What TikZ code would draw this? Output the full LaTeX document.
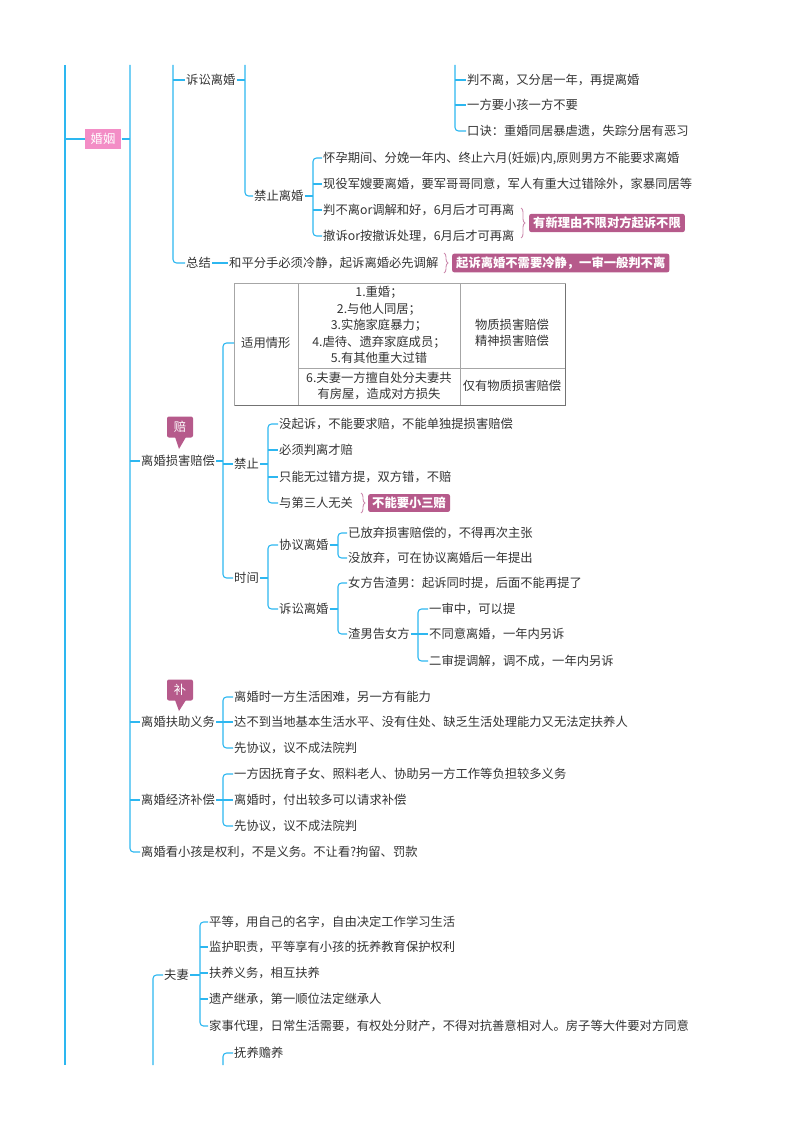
\documentclass[tikz,border=0pt]{standalone}
\usepackage{fontspec}
\setmainfont{Noto Sans CJK SC}
\usetikzlibrary{decorations.pathreplacing}
\definecolor{ln}{HTML}{2DB7F0}
\definecolor{tx}{HTML}{333333}
\definecolor{tagc}{HTML}{B65A8B}
\definecolor{pinkc}{HTML}{F38DC6}
\tikzset{
 ln/.style={draw=ln,line width=1.1pt},
 it/.style={anchor=west,inner sep=1pt,text=tx,font=\fontsize{12.3}{14}\selectfont},
 tag/.style={anchor=west,fill=tagc,text=white,rounded corners=2pt,inner xsep=4pt,inner ysep=3pt,font=\fontsize{12.3}{14}\selectfont\bfseries},
 brc/.style={draw=tagc!70,line width=0.9pt,decorate,decoration={brace,amplitude=4pt}},
 cell/.style={text=tx,align=center,font=\fontsize{12.3}{16.5}\selectfont},
 tb/.style={draw=gray!70,line width=0.7pt},
}
\newcommand\grp[3]{\coordinate (bx) at (#1,0);
 \draw[ln,rounded corners=3.5pt] (#2.west) -- (#2.west -| bx) -- (#3.west -| bx) -- (#3.west);}
\newcommand\tk[1]{\draw[ln] (#1.west -| bx) -- (#1.west);}
\newcommand\pr[1]{\draw[ln] (#1.east) -- (#1.east -| bx);}
\begin{document}
\begin{tikzpicture}[x=1pt,y=-1pt]
\useasboundingbox (0,0) rectangle (800,1132);
% main vertical
\draw[ln] (65,65) -- (65,1065);
\node[fill=pinkc,text=white,inner xsep=6pt,inner ysep=4pt,font=\fontsize{12.3}{14}\selectfont] (hy) at (103,139) {婚姻};
\draw[ln] (65,139) -- (hy.west);
% level x=130
\node[it] (sh) at (140,461) {离婚损害赔偿};
\node[it] (fz) at (140,722) {离婚扶助义务};
\node[it] (jj) at (140,800) {离婚经济补偿};
\node[it] (kx) at (140,852) {离婚看小孩是权利，不是义务。不让看?拘留、罚款};
\coordinate (t130) at (130,65);
\draw[ln,rounded corners=3.5pt] (t130) -- (kx.west -| t130) -- (kx.west);
\coordinate (bx) at (130,0);
\pr{hy}\tk{sh}\tk{fz}\tk{jj}
% level x=173
\node[it] (ss) at (185,80) {诉讼离婚};
\node[it] (zj) at (185,263) {总结};
\coordinate (t173) at (173,65);
\draw[ln,rounded corners=3.5pt] (t173) -- (zj.west -| t173) -- (zj.west);
\coordinate (bx) at (173,0); \tk{ss}
% x=455 group
\node[it] (a1) at (466,80) {判不离，又分居一年，再提离婚};
\node[it] (a2) at (466,105) {一方要小孩一方不要};
\node[it] (a3) at (466,131) {口诀：重婚同居暴虐遗，失踪分居有恶习};
\coordinate (t455) at (455,65);
\draw[ln,rounded corners=3.5pt] (t455) -- (a3.west -| t455) -- (a3.west);
\coordinate (bx) at (455,0); \tk{a1}\tk{a2}
% 禁止离婚
\node[it] (jz) at (253,196) {禁止离婚};
\coordinate (t245) at (245,65);
\draw[ln,rounded corners=3.5pt] (t245) -- (jz.west -| t245) -- (jz.west);
\coordinate (bx) at (245,0); \pr{ss}
\node[it] (b1) at (322,158) {怀孕期间、分娩一年内、终止六月(妊娠)内,原则男方不能要求离婚};
\node[it] (b2) at (322,184) {现役军嫂要离婚，要军哥哥同意，军人有重大过错除外，家暴同居等};
\node[it] (b3) at (322,210) {判不离or调解和好，6月后才可再离};
\node[it] (b4) at (322,236) {撤诉or按撤诉处理，6月后才可再离};
\grp{313}{b1}{b4}\tk{b2}\tk{b3}\pr{jz}
\draw[brc] (521,208) -- (521,238);
\node[tag] (g1) at (529,223) {有新理由不限对方起诉不限};
% 总结
\node[it] (zz) at (228,263) {和平分手必须冷静，起诉离婚必先调解};
\draw[ln] (zj.east) -- (zz.west);
\draw[brc] (444,253) -- (444,273);
\node[tag] (g2) at (452,263) {起诉离婚不需要冷静，一审一般判不离};
% table
\node[it] (sy) at (240,343) {适用情形};
\draw[tb] (234,283) rectangle (565,405);
\draw[tb] (298,283) -- (298,405);
\draw[tb] (460,283) -- (460,405);
\draw[tb] (298,368) -- (565,368);
\draw[gray!90!black,line width=1.4pt] (565.5,284) -- (565.5,405.5) -- (235,405.5);
\node[cell] (c1) at (379,325) {1.重婚；\\2.与他人同居；\\3.实施家庭暴力；\\4.虐待、遗弃家庭成员；\\5.有其他重大过错};
\node[cell] (c2) at (512,333) {物质损害赔偿\\精神损害赔偿};
\node[cell] (c3) at (379,386) {6.夫妻一方擅自处分夫妻共\\有房屋，造成对方损失};
\node[cell] (c4) at (512,386) {仅有物质损害赔偿};
% 损害赔偿 children
\node[it] (jz2) at (233,464) {禁止};
\node[it] (sj) at (233,578) {时间};
\coordinate (bx) at (223,0);
\draw[ln,rounded corners=3.5pt] (234,343) -- (223,343) -- (sj.west -| bx) -- (sj.west);
\tk{jz2}\pr{sh}
\node[it] (d1) at (278,424) {没起诉，不能要求赔，不能单独提损害赔偿};
\node[it] (d2) at (278,450) {必须判离才赔};
\node[it] (d3) at (278,477) {只能无过错方提，双方错，不赔};
\node[it] (d4) at (278,503) {与第三人无关};
\grp{268}{d1}{d4}\tk{d2}\tk{d3}\pr{jz2}
\draw[brc] (361,493) -- (361,513);
\node[tag] (g3) at (368,503) {不能要小三赔};
\node[it] (e1) at (278,545) {协议离婚};
\node[it] (e2) at (278,609) {诉讼离婚};
\grp{268}{e1}{e2}\pr{sj}
\node[it] (f1) at (347,533) {已放弃损害赔偿的，不得再次主张};
\node[it] (f2) at (347,558) {没放弃，可在协议离婚后一年提出};
\grp{338}{f1}{f2}\pr{e1}
\node[it] (h1) at (347,583) {女方告渣男：起诉同时提，后面不能再提了};
\node[it] (h2) at (347,634) {渣男告女方};
\grp{338}{h1}{h2}\pr{e2}
\node[it] (k1) at (428,609) {一审中，可以提};
\node[it] (k2) at (428,634) {不同意离婚，一年内另诉};
\node[it] (k3) at (428,661) {二审提调解，调不成，一年内另诉};
\grp{418}{k1}{k3}\tk{k2}\pr{h2}
% callouts
\node[fill=tagc,text=white,rounded corners=2pt,minimum width=26pt,minimum height=21pt,inner sep=0pt,font=\fontsize{12.3}{14}\selectfont] (p1) at (180,427) {赔};
\fill[tagc] (175,437) -- (179,449) -- (186,437) -- cycle;
\node[fill=tagc,text=white,rounded corners=2pt,minimum width=26pt,minimum height=21pt,inner sep=0pt,font=\fontsize{12.3}{14}\selectfont] (p2) at (180,690) {补};
\fill[tagc] (175,700) -- (179,711) -- (186,700) -- cycle;
% 扶助
\node[it] (m1) at (233,697) {离婚时一方生活困难，另一方有能力};
\node[it] (m2) at (233,722) {达不到当地基本生活水平、没有住处、缺乏生活处理能力又无法定扶养人};
\node[it] (m3) at (233,748) {先协议，议不成法院判};
\grp{223}{m1}{m3}\tk{m2}\pr{fz}
\node[it] (n1) at (233,774) {一方因抚育子女、照料老人、协助另一方工作等负担较多义务};
\node[it] (n2) at (233,800) {离婚时，付出较多可以请求补偿};
\node[it] (n3) at (233,826) {先协议，议不成法院判};
\grp{223}{n1}{n3}\tk{n2}\pr{jj}
% 夫妻
\node[it] (fq) at (163,975) {夫妻};
\coordinate (b153) at (153,1065);
\draw[ln,rounded corners=3.5pt] (fq.west) -- (fq.west -| b153) -- (b153);
\node[it] (q1) at (208,922) {平等，用自己的名字，自由决定工作学习生活};
\node[it] (q2) at (208,947) {监护职责，平等享有小孩的抚养教育保护权利};
\node[it] (q3) at (208,973) {扶养义务，相互扶养};
\node[it] (q4) at (208,999) {遗产继承，第一顺位法定继承人};
\node[it] (q5) at (208,1026) {家事代理，日常生活需要，有权处分财产，不得对抗善意相对人。房子等大件要对方同意};
\grp{200}{q1}{q5}\tk{q2}\tk{q3}\tk{q4}\pr{fq}
\node[it] (r1) at (233,1053) {抚养赡养};
\coordinate (b223) at (223,1065);
\draw[ln,rounded corners=3.5pt] (r1.west) -- (r1.west -| b223) -- (b223);
\end{tikzpicture}
\end{document}
